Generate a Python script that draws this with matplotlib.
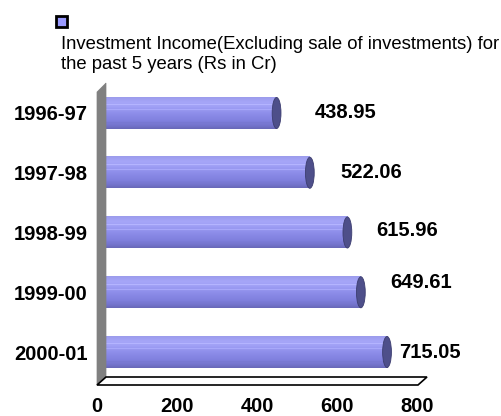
import matplotlib
matplotlib.use("Agg")
import matplotlib.pyplot as plt
import matplotlib.transforms as mtransforms
from matplotlib.patches import Ellipse, Polygon, Rectangle
from matplotlib.colors import LinearSegmentedColormap
import numpy as np

# ---- data ----
categories = ["1996-97", "1997-98", "1998-99", "1999-00", "2000-01"]
values = [438.95, 522.06, 615.96, 649.61, 715.05]
value_labels = ["438.95", "522.06", "615.96", "649.61", "715.05"]
x_ticks = [0, 200, 400, 600, 800]
title = "Investment Income(Excluding sale of investments) for\nthe past 5 years (Rs in Cr)"

# ---- layout / style ----
label_dx_px = [38, 31, 29, 29, 12]
label_dy_px = [0, 0, 2, 10, 0]
W, H = 501, 416
plt.rcParams['font.family'] = ['Liberation Sans', 'DejaVu Sans']

fig = plt.figure(figsize=(W / 100, H / 100), dpi=100)

def fx(px):
    return px / W

def fy(py):
    return 1 - py / H

ax_left, ax_right, ax_top, ax_bot = 101, 421, 83, 385
ax = fig.add_axes([fx(ax_left), fy(ax_bot), (ax_right - ax_left) / W, (ax_bot - ax_top) / H])
ax.set_xlim(0, 800)
ypos = np.arange(len(categories))
ax.set_ylim(4.552, -0.502)
for s in ax.spines.values():
    s.set_visible(False)
ax.patch.set_alpha(0)

# wall and floor (decorative, in pixel coords)
wall = Polygon([(fx(97), fy(385)), (fx(97), fy(92)), (fx(106), fy(83)), (fx(106), fy(377))],
               closed=True, transform=fig.transFigure, facecolor="#808080", edgecolor="#808080", lw=0.5, zorder=0)
fig.patches.append(wall)
floor = Polygon([(fx(97), fy(385)), (fx(106), fy(377)), (fx(427), fy(377)), (fx(418), fy(385))],
                closed=True, transform=fig.transFigure, facecolor="white", edgecolor="black", lw=1.2, zorder=0)
fig.patches.append(floor)

cmap = LinearSegmentedColormap.from_list("cyl", [
    (0.0, "#9c9cec"), (0.15, "#a6a6f8"), (0.3, "#a0a0f6"), (0.5, "#8e8eea"),
    (0.75, "#8080de"), (0.9, "#7474cc"), (1.0, "#6868b8")])
grad = np.linspace(0, 1, 64).reshape(-1, 1)
bh = 0.52
cap_w = 22  # data units (~9 px)

for i, (v, lab) in enumerate(zip(values, value_labels)):
    y = ypos[i]
    ax.add_patch(Ellipse((0, y), cap_w, bh, facecolor="#9292ee", edgecolor="none", zorder=2))
    ax.imshow(grad, cmap=cmap, aspect="auto", extent=(0, v, y + bh / 2, y - bh / 2),
              interpolation="bilinear", zorder=3)
    for frac, c in [(0.22, "#b4b4ff"), (0.38, "#a8a8fa"), (0.8, "#7878d2")]:
        yy = y - bh / 2 + frac * bh
        ax.plot([0, v], [yy, yy], color=c, lw=0.8, zorder=3.5, solid_capstyle="butt")
    ax.add_patch(Ellipse((v, y), cap_w, bh, facecolor="#4e4f8a", edgecolor="#3c3d70", lw=0.6, zorder=4))
    off = mtransforms.ScaledTranslation(label_dx_px[i] / 100, label_dy_px[i] / 100, fig.dpi_scale_trans)
    ax.text(v, y, lab, transform=ax.transData + off, ha="left", va="center",
            fontsize=14.5, fontweight="bold", zorder=5)

ax.set_xticks(x_ticks)
ax.set_xticklabels([str(t) for t in x_ticks], fontsize=14.5, fontweight="bold")
ax.set_yticks(ypos)
ax.set_yticklabels(categories, fontsize=14.5, fontweight="bold")
ax.tick_params(axis="x", length=0, pad=9)
ax.tick_params(axis="y", length=0, pad=9.5)
shift = mtransforms.ScaledTranslation(-4 / 100, 0, fig.dpi_scale_trans)
for t in ax.get_xticklabels():
    t.set_transform(t.get_transform() + shift)

# legend marker and title
fig.patches.append(Rectangle((fx(56), fy(27)), 11 / W, 11 / H, transform=fig.transFigure,
                             facecolor="#9a9aff", edgecolor="black", lw=2))
fig.text(fx(61), fy(36), title, ha="left", va="top", fontsize=13.3, linespacing=1.22)

fig.savefig("out.png", dpi=100)
